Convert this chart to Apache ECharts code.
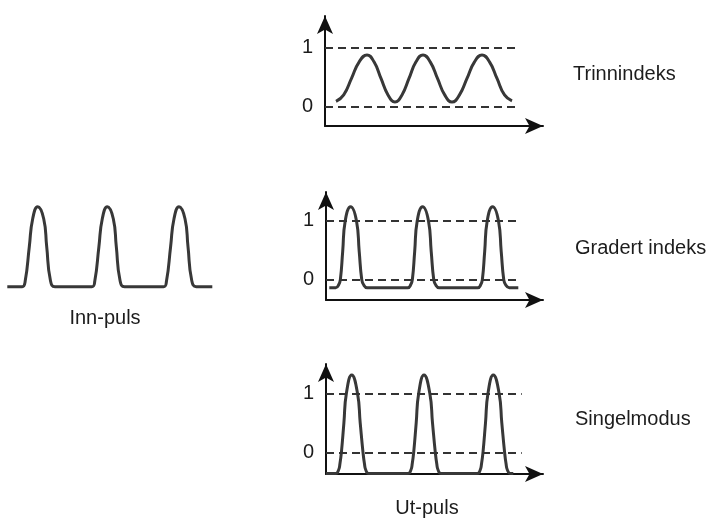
<!DOCTYPE html>
<html>
<head>
<meta charset="utf-8">
<script src="https://cdn.jsdelivr.net/npm/echarts@6/dist/echarts.min.js"></script>
<style>
html,body{margin:0;padding:0;background:#fff;}
#chart{width:715px;height:521px;}
</style>
</head>
<body>
<div id="chart"></div>
<script>
// ---- data (time in px-like units from each panel's origin, level relative to 0/1 reference lines) ----
const refLevels = [0, 1];
const yTickLabels = [0, 1];

const innPuls = [
  [7.3,0],
  [22.2,0],[25.2,0.07],[29.3,0.5],[32.7,0.85],[37.7,1],[43.7,0.85],[46.7,0.5],[50.4,0.08],[55,0],
  [91.8,0],[94.8,0.07],[98.9,0.5],[102.3,0.85],[107.3,1],[113.3,0.85],[116.3,0.5],[120,0.08],[124.6,0],
  [163.5,0],[166.5,0.07],[170.6,0.5],[174,0.85],[179,1],[185,0.85],[188,0.5],[191.7,0.08],[196.3,0],
  [212.3,0]
];

const trinnindeks = [
  [11,0.09],[18.7,0.2],[26.5,0.48],[34.2,0.76],[42,0.876],[49,0.76],[56,0.48],[63,0.2],
  [70,0.08],[77,0.2],[84,0.48],[91,0.76],[98,0.876],[105.2,0.76],[112.5,0.48],[119.7,0.2],
  [127,0.08],[134.5,0.2],[142,0.48],[149.5,0.76],[157,0.876],[164.5,0.76],[172,0.48],[179.5,0.2],[187,0.1]
];

const gradertIndeks = [
  [3.3,-0.144],
  [9.7,-0.144],[12.8,-0.09],[14.4,0],[16.7,0.48],[19.2,1.0],[24.7,1.245],[30.5,1.0],[33.2,0.48],[35.7,0],[37.5,-0.09],[41.2,-0.144],
  [81.7,-0.144],[84.8,-0.09],[86.4,0],[88.7,0.48],[91.2,1.0],[96.7,1.245],[102.5,1.0],[105.2,0.48],[107.7,0],[109.5,-0.09],[113.2,-0.144],
  [151.7,-0.144],[154.8,-0.09],[156.4,0],[158.7,0.48],[161.2,1.0],[166.7,1.245],[172.5,1.0],[175.2,0.48],[177.7,0],[179.5,-0.09],[183.2,-0.144],
  [192.3,-0.144]
];

const singelmodus = [
  [0,-0.36],
  [9.7,-0.36],[12.6,-0.3],[13.9,-0.2],[15.4,0],[17.9,0.5],[20.4,1.0],[25.7,1.31],[31.5,1.0],[34.2,0.5],[37,0],[38.5,-0.2],[39.8,-0.3],[42.7,-0.36],
  [82,-0.36],[84.9,-0.3],[86.2,-0.2],[87.7,0],[90.2,0.5],[92.7,1.0],[98,1.31],[103.8,1.0],[106.5,0.5],[109.3,0],[110.8,-0.2],[112.1,-0.3],[115,-0.36],
  [151.3,-0.36],[154.2,-0.3],[155.5,-0.2],[157,0],[159.5,0.5],[162,1.0],[167.3,1.31],[173.1,1.0],[175.8,0.5],[178.6,0],[180.1,-0.2],[181.4,-0.3],[184.3,-0.36],
  [187.3,-0.36]
];

const dashEnds = [193, 192.3, 195.7];
const panelNames = ['Trinnindeks', 'Gradert indeks', 'Singelmodus'];

// ---- styling / layout ----
const FONT = '"Liberation Sans", Arial, Helvetica, sans-serif';
const INK = '#1c1c1c';
const CURVE = '#383838';

const panels = [
  {grid:{left:325, top:16, width:218, height:110}, xMax:218, yMin:-0.327, yMax:1.537, data:trinnindeks},
  {grid:{left:326, top:192, width:217, height:108}, xMax:217, yMin:-0.355, yMax:1.497, data:gradertIndeks},
  {grid:{left:326, top:364, width:217, height:110}, xMax:217, yMin:-0.368, yMax:1.497, data:singelmodus}
];

const grids = [{left:0, top:186.7, width:220, height:120}];
const xAxes = [{gridIndex:0, type:'value', min:0, max:220, show:false}];
const yAxes = [{gridIndex:0, type:'value', min:-0.25, max:1.25, show:false}];
const series = [{
  type:'line', xAxisIndex:0, yAxisIndex:0, data:innPuls, smooth:0.5,
  showSymbol:false, clip:false, lineStyle:{color:CURVE, width:3}
}];

const axisLineStyle = {color:'#111', width:2};

panels.forEach(function (p, i) {
  const gi = i + 1;
  grids.push(p.grid);
  xAxes.push({
    gridIndex:gi, type:'value', min:0, max:p.xMax,
    axisLine:{show:true, onZero:false, symbol:['none','arrow'], symbolSize:[12,18], lineStyle:axisLineStyle},
    axisTick:{show:false}, axisLabel:{show:false}, splitLine:{show:false}
  });
  yAxes.push({
    gridIndex:gi, type:'value', min:p.yMin, max:p.yMax,
    axisLine:{show:true, onZero:false, symbol:['none','arrow'], symbolSize:[12,18], lineStyle:axisLineStyle},
    axisTick:{show:false}, splitLine:{show:false},
    axisLabel:{show:true, customValues:yTickLabels, fontSize:20, fontFamily:FONT, color:INK, margin:12}
  });
  series.push({
    type:'line', xAxisIndex:gi, yAxisIndex:gi, data:p.data, smooth:0.5,
    showSymbol:false, clip:false, z:3, lineStyle:{color:CURVE, width:3},
    markLine:{
      silent:true, symbol:['none','none'], label:{show:false},
      lineStyle:{color:'#333', width:2, type:[8,5]},
      data: refLevels.map(function (lv) { return [{coord:[0, lv]}, {coord:[dashEnds[i], lv]}]; })
    }
  });
});

const textStyle = function (t, x, y, align) {
  return {type:'text', x:x, y:y, style:{text:t, fill:INK, fontSize:20, fontFamily:FONT, align:align, verticalAlign:'middle'}};
};

const option = {
  animation:false,
  backgroundColor:'#fff',
  grid:grids, xAxis:xAxes, yAxis:yAxes, series:series,
  graphic:[
    textStyle('Inn-puls', 105, 318, 'center'),
    textStyle('Ut-puls', 427, 508, 'center'),
    textStyle(panelNames[0], 573, 74, 'left'),
    textStyle(panelNames[1], 575, 248, 'left'),
    textStyle(panelNames[2], 575, 419, 'left')
  ]
};

const chart = echarts.init(document.getElementById('chart'));
chart.setOption(option);
</script>
</body>
</html>
